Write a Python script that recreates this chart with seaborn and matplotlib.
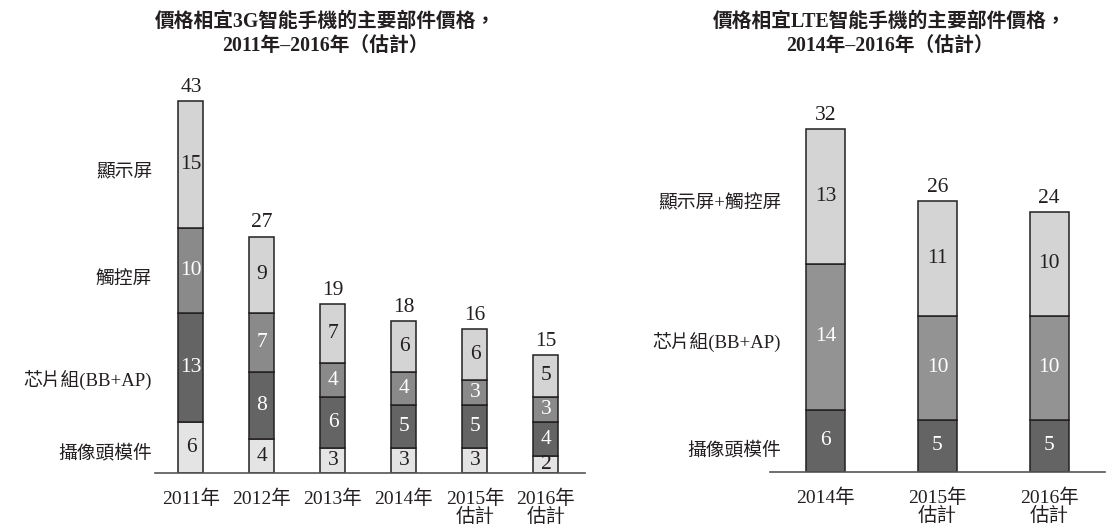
import numpy as np
import pandas as pd
import matplotlib
matplotlib.use('Agg')
import matplotlib.pyplot as plt
import seaborn as sns

# 3G smartphone component prices, 2011-2016
years_3g = ['2011年', '2012年', '2013年', '2014年', '2015年\n估計', '2016年\n估計']
camera_3g = [6, 4, 3, 3, 3, 2]
chipset_3g = [13, 8, 6, 5, 5, 4]
touch_3g = [10, 7, 4, 4, 3, 3]
display_3g = [15, 9, 7, 6, 6, 5]
total_3g = [43, 27, 19, 18, 16, 15]

# LTE smartphone component prices, 2014-2016
years_lte = ['2014年', '2015年\n估計', '2016年\n估計']
camera_lte = [6, 5, 5]
chipset_lte = [14, 10, 10]
display_lte = [13, 11, 10]
total_lte = [32, 26, 24]

labels_3g = ['攝像頭模件', '芯片組(BB+AP)', '觸控屏', '顯示屏']
labels_lte = ['攝像頭模件', '芯片組(BB+AP)', '顯示屏+觸控屏']

sns.set_theme(style='white')
plt.rcParams['font.family'] = ['Liberation Serif', 'Noto Sans CJK TC', 'DejaVu Sans']

EDGE = '#231f20'


def stacked(ax, cats, layers, colors, txtcolors, totals, width):
    bottom = np.zeros(len(cats))
    for vals, col, tc in zip(layers, colors, txtcolors):
        vals = np.array(vals, dtype=float)
        sns.barplot(x=cats, y=vals, bottom=bottom, color=col, width=width,
                    edgecolor=EDGE, linewidth=1.1, errorbar=None, ax=ax,
                    saturation=1)
        for i, v in enumerate(vals):
            ax.text(i, bottom[i] + v / 2, f'{int(v)}', ha='center', va='center',
                    fontsize=15.5, color=tc, family='Liberation Serif')
        bottom += vals
    for i, t in enumerate(totals):
        ax.annotate(f'{t}', (i, bottom[i]), xytext=(0, 3), textcoords='offset points',
                    ha='center', va='bottom', fontsize=15.5, family='Liberation Serif',
                    color='#231f20')


fig = plt.figure(figsize=(11.13, 5.30), dpi=100)

# left chart
ax1 = fig.add_axes([155 / 1113, 57 / 530, 430 / 1113, 413 / 530])
stacked(ax1, years_3g, [camera_3g, chipset_3g, touch_3g, display_3g],
        ['#e4e4e4', '#646464', '#8a8a8a', '#d4d4d4'],
        ['#231f20', 'white', 'white', '#231f20'], total_3g, 0.352)
ax1.set_xlim(-0.507, 5.55)
ax1.set_ylim(0, 48.9)
ax1.set_yticks([2.5, 11.2, 23.2, 35.9])
ax1.set_yticklabels(labels_3g)
ax1.tick_params(axis='y', length=0, pad=2, labelsize=13.5, labelcolor='#231f20')

# right chart
ax2 = fig.add_axes([770 / 1113, 58 / 530, 335 / 1113, 412 / 530])
stacked(ax2, years_lte, [camera_lte, chipset_lte, display_lte],
        ['#646464', '#939393', '#d4d4d4'],
        ['white', 'white', '#231f20'], total_lte, 0.35)
ax2.set_xlim(-0.5, 2.5)
ax2.set_ylim(0, 39.6)
ax2.set_yticks([2.3, 12.7, 26.0])
ax2.set_yticklabels(labels_lte)
ax2.tick_params(axis='y', length=0, pad=-8, labelsize=13.5, labelcolor='#231f20')

for ax in (ax1, ax2):
    sns.despine(ax=ax, left=True)
    ax.spines['bottom'].set_color('#555555')
    ax.spines['bottom'].set_linewidth(1.2)
    ax.set_xlabel('')
    ax.set_ylabel('')
    ax.tick_params(axis='x', length=0, pad=12, labelsize=14, labelcolor='#231f20')
    for lab in ax.get_xticklabels():
        lab.set_linespacing(0.95)

fig.text(325 / 1113, 1 - 22 / 530, '價格相宜3G智能手機的主要部件價格，', ha='center', va='center',
         fontsize=14.2, fontweight='bold', color='#231f20')
fig.text(325 / 1113, 1 - 46 / 530, '2011年–2016年（估計）', ha='center', va='center',
         fontsize=14.2, fontweight='bold', color='#231f20')
fig.text(890 / 1113, 1 - 22 / 530, '價格相宜LTE智能手機的主要部件價格，', ha='center', va='center',
         fontsize=14.2, fontweight='bold', color='#231f20')
fig.text(890 / 1113, 1 - 46 / 530, '2014年–2016年（估計）', ha='center', va='center',
         fontsize=14.2, fontweight='bold', color='#231f20')

fig.savefig('out.png', dpi=100)
